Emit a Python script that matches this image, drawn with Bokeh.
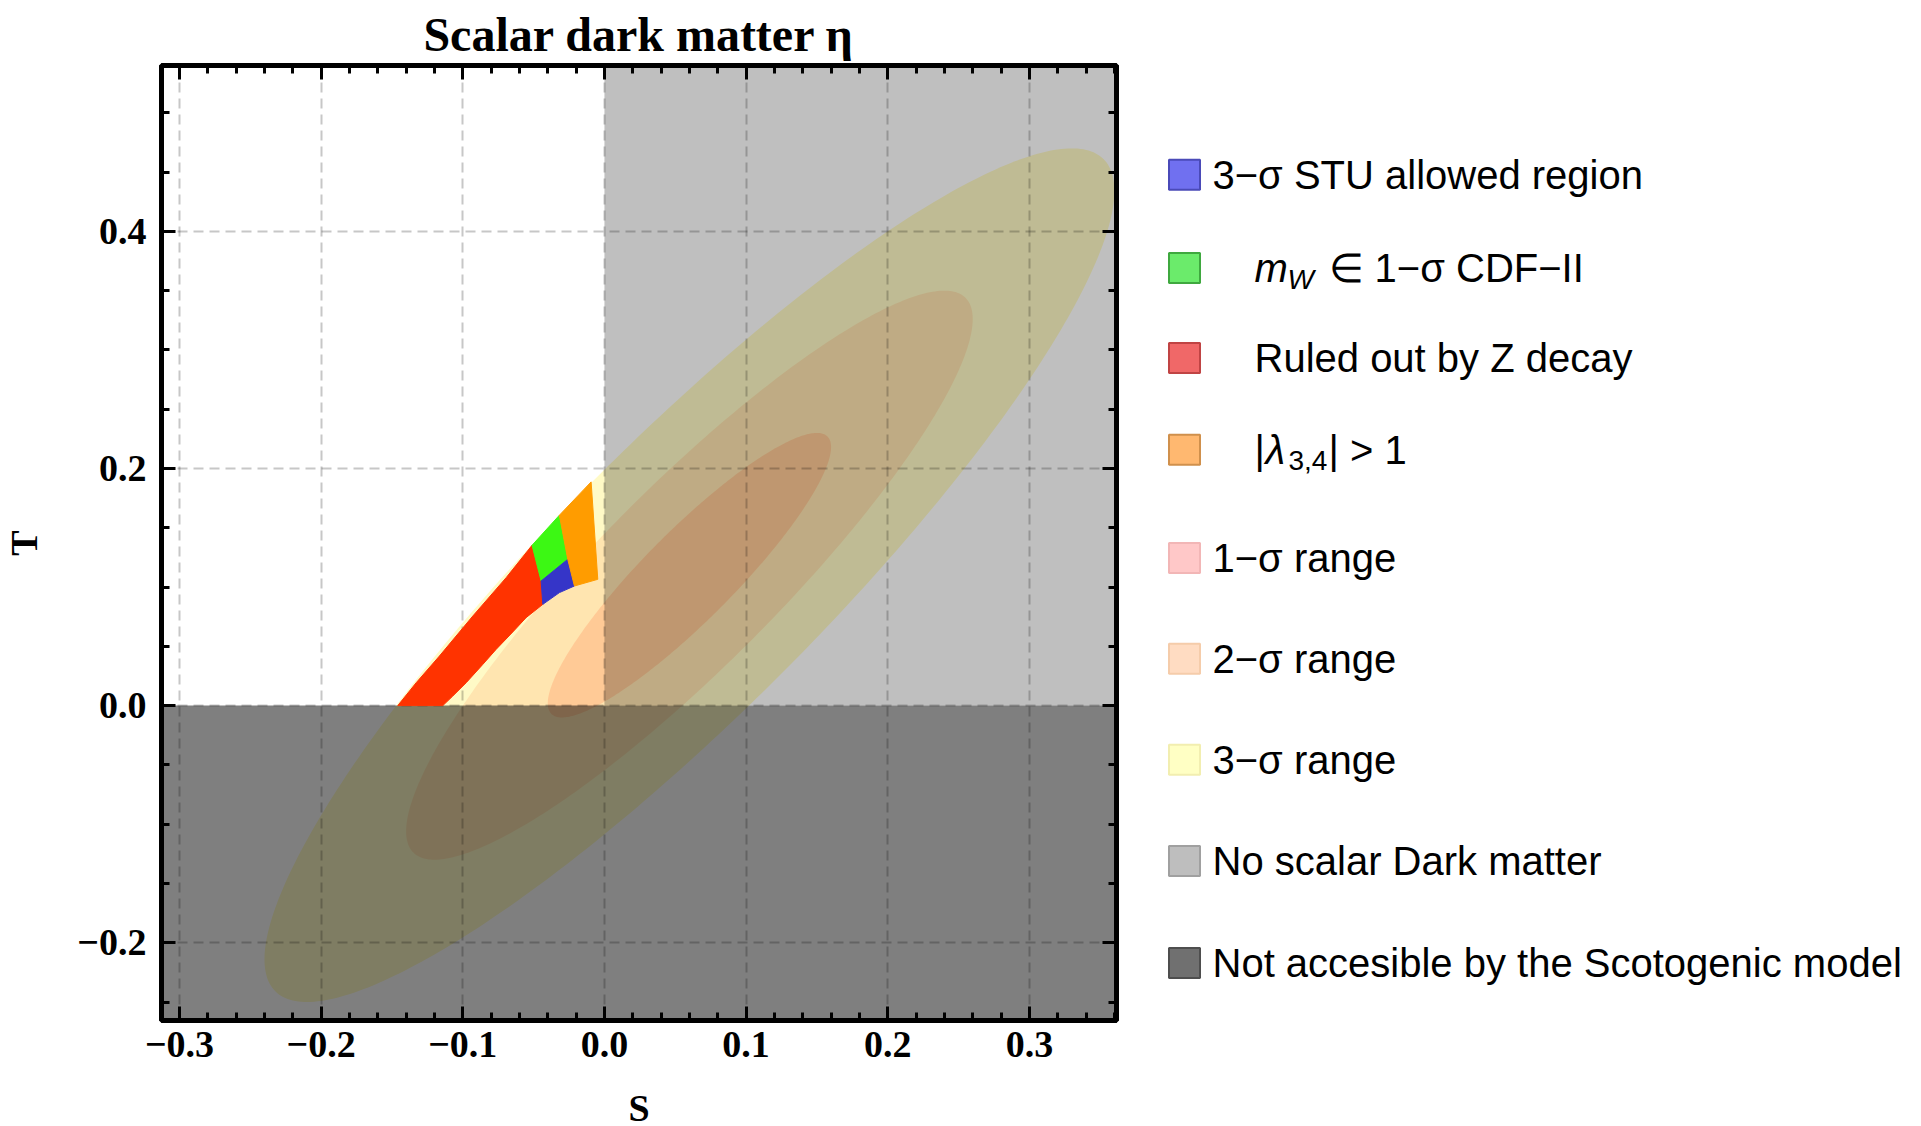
import numpy as np
from bokeh.plotting import figure
from bokeh.models import FixedTicker, LinearAxis, CustomJSTickFormatter, Range1d
from bokeh.layouts import row
from bokeh.embed import file_html
from bokeh.resources import INLINE
from bokeh.core.properties import value

# ---------------- data ----------------
title_text = "Scalar dark matter η"
x_label = "S"
y_label = "T"

x_major_ticks = [-0.3, -0.2, -0.1, 0.0, 0.1, 0.2, 0.3]
x_minor_ticks = [-0.30, -0.28, -0.26, -0.24, -0.22, -0.20, -0.18, -0.16, -0.14, -0.12,
                 -0.10, -0.08, -0.06, -0.04, -0.02, 0.00, 0.02, 0.04, 0.06, 0.08,
                 0.10, 0.12, 0.14, 0.16, 0.18, 0.20, 0.22, 0.24, 0.26, 0.28,
                 0.30, 0.32, 0.34, 0.36]
y_major_ticks = [-0.2, 0.0, 0.2, 0.4]
y_minor_ticks = [-0.25, -0.15, -0.10, -0.05, 0.05, 0.10, 0.15, 0.25, 0.30, 0.35, 0.45, 0.50]

x_view = (-0.3127, 0.3615)
y_view = (-0.2656, 0.5399)

# global fit of S,T (centre, widths, correlation) read from the ellipses
fit_S = 0.06
fit_T = 0.11
sigma_S = 0.10
sigma_T = 0.12
rho_ST = 0.90
ellipse_levels = [3, 2, 1]
ellipse_colors = ["#FFFAC6", "#FFE5B0", "#FFCA96"]

# scan band of the scotogenic model, split by constraint
red_S = [-0.1459, -0.1329, -0.1165, -0.0929, -0.0694, -0.0511, -0.0447, -0.0435,
         -0.0553, -0.0647, -0.0765, -0.0859, -0.0976, -0.1071, -0.1141]
red_T = [0.0000, 0.0193, 0.0418, 0.0756, 0.1079, 0.1352, 0.1051, 0.0854,
         0.0742, 0.0621, 0.0474, 0.0347, 0.0193, 0.0080, 0.0000]
green_S = [-0.0511, -0.0318, -0.0259, -0.0447]
green_T = [0.1352, 0.1606, 0.1234, 0.1051]
blue_S = [-0.0447, -0.0259, -0.0212, -0.0318, -0.0435]
blue_T = [0.1051, 0.1234, 0.1009, 0.0953, 0.0854]
orange_S = [-0.0318, -0.0094, -0.0047, -0.0212, -0.0259]
orange_T = [0.1606, 0.1887, 0.1065, 0.1009, 0.1234]
band_colors = {"red": "#FF3300", "green": "#3CF814", "blue": "#3535C8", "orange": "#FF9C00"}

# excluded regions (S >= 0 and T >= 0: no scalar DM;  T < 0: not accessible)
no_dm_left, no_dm_right, no_dm_bottom, no_dm_top = 0.0, 1.0, 0.0, 1.0
na_left, na_right, na_bottom, na_top = -1.0, 1.0, -1.0, 0.0

legend_labels = ["3−σ STU allowed region", "mW ∈ 1−σ CDF−II", "Ruled out by Z decay",
                 "|λ3,4| > 1", "1−σ range", "2−σ range", "3−σ range",
                 "No scalar Dark matter", "Not accesible by the Scotogenic model"]
legend_fill = ["#7070F0", "#6BEB6B", "#F06868", "#FFB870", "#FFC8C8", "#FFDCC2",
               "#FFFFC4", "#BEBEBE", "#707070"]
legend_edge = ["#4A4AB8", "#3FA83F", "#C04444", "#D0904C", "#F2B6B6", "#F5CCAA",
               "#F2EEB0", "#A0A0A0", "#4E4E4E"]

# ---------------- main plot ----------------
SERIF = "Liberation Serif"
SANS = "Liberation Sans"

p = figure(frame_width=955, frame_height=955,
           x_range=Range1d(*x_view), y_range=Range1d(*y_view),
           output_backend="svg", toolbar_location=None,
           min_border_left=160, min_border_right=25, min_border_top=65, min_border_bottom=100,
           background_fill_color="white", border_fill_color="white",
           outline_line_color="black", outline_line_width=5,
           x_axis_label=x_label, y_axis_label=y_label, title=title_text)
p.title.align = "center"
p.title.text_font = SERIF
p.title.text_font_style = "bold"
p.title.text_font_size = "48px"
p.title.text_color = "black"
p.title.standoff = 9
p.title.offset = 0

# confidence ellipses of the S,T fit
t = np.linspace(0, 2 * np.pi, 361)
for lev, col in zip(ellipse_levels, ellipse_colors):
    es = fit_S + lev * sigma_S * np.cos(t)
    et = fit_T + lev * sigma_T * (rho_ST * np.cos(t) + np.sqrt(1 - rho_ST ** 2) * np.sin(t))
    p.patch(es, et, fill_color=col, line_color=None)

# excluded regions as darkening overlays
p.quad(left=[no_dm_left], right=[no_dm_right], bottom=[no_dm_bottom], top=[no_dm_top],
       fill_color="black", fill_alpha=0.25, line_color=None)
p.quad(left=[na_left], right=[na_right], bottom=[na_bottom], top=[na_top],
       fill_color="black", fill_alpha=0.5, line_color=None)

# scotogenic band
for xs, ys, key in [(red_S, red_T, "red"), (green_S, green_T, "green"),
                    (blue_S, blue_T, "blue"), (orange_S, orange_T, "orange")]:
    r = p.patch(xs, ys, fill_color=band_colors[key], line_color=band_colors[key], line_width=1)
    r.level = "overlay"

fmt = CustomJSTickFormatter(code="return (tick < -1e-9 ? '\u2212' : '') + Math.abs(tick).toFixed(1);")
blank = CustomJSTickFormatter(code="return '';")


def style_axis(ax, major, minor, labels):
    ax.ticker = FixedTicker(ticks=major, minor_ticks=minor)
    ax.axis_line_color = "black"
    ax.axis_line_width = 5
    ax.major_tick_in = 14
    ax.major_tick_out = 0
    ax.major_tick_line_width = 3
    ax.minor_tick_in = 8
    ax.minor_tick_out = 0
    ax.minor_tick_line_width = 3
    if labels:
        ax.formatter = fmt
        ax.major_label_text_font = SERIF
        ax.major_label_text_font_style = "bold"
        ax.major_label_text_font_size = "38px"
        ax.major_label_text_color = "black"
        ax.axis_label_text_font = SERIF
        ax.axis_label_text_font_style = "bold"
        ax.axis_label_text_font_size = "38px"
        ax.axis_label_text_color = "black"
    else:
        ax.formatter = blank
        ax.major_label_text_font_size = "0px"
        ax.major_label_standoff = 0


style_axis(p.xaxis[0], x_major_ticks, x_minor_ticks, True)
style_axis(p.yaxis[0], y_major_ticks, y_minor_ticks, True)
p.xaxis[0].major_label_standoff = 11
p.xaxis[0].axis_label_standoff = 27
p.yaxis[0].major_label_standoff = 15
p.yaxis[0].axis_label_standoff = 29

top_ax = LinearAxis()
style_axis(top_ax, x_major_ticks, x_minor_ticks, False)
p.add_layout(top_ax, "above")
right_ax = LinearAxis()
style_axis(right_ax, y_major_ticks, y_minor_ticks, False)
p.add_layout(right_ax, "right")

p.xgrid.ticker = FixedTicker(ticks=x_major_ticks)
p.ygrid.ticker = FixedTicker(ticks=y_major_ticks)
for g in (p.xgrid[0], p.ygrid[0]):
    g.grid_line_color = "black"
    g.grid_line_alpha = 0.22
    g.grid_line_width = 2
    g.grid_line_dash = "10 6"
    g.level = "annotation"

# ---------------- legend panel ----------------
# its frame is aligned with the main frame (canvas rows 65..1020); y in canvas pixels
LW = 781
lg = figure(frame_width=LW, frame_height=955, x_range=Range1d(0, LW), y_range=Range1d(1020, 65),
            output_backend="svg", toolbar_location=None,
            min_border_left=0, min_border_right=0, min_border_top=65, min_border_bottom=100,
            x_axis_type=None, y_axis_type=None, outline_line_color=None,
            background_fill_color="white", border_fill_color="white")
lg.grid.visible = False

row_y = [174.2, 267.5, 357.5, 449.2, 557.5, 658.2, 759.2, 860.5, 962.5]
sw_x, sw_w, sw_h = 43, 31, 30
lg.rect(x=[sw_x] * len(row_y), y=row_y, width=sw_w, height=sw_h,
        fill_color=legend_fill, line_color=legend_edge, line_width=2)

plain_idx = [0, 2, 4, 5, 6, 7, 8]
plain_x = [71, 113, 71, 71, 71, 71, 71]
lg.text(x=plain_x, y=[row_y[i] for i in plain_idx], text=[legend_labels[i] for i in plain_idx],
        text_font=value(SANS), text_font_size="40px", text_baseline="middle",
        text_align="left", text_color="black")

# m_W in 1-sigma CDF-II
y1 = row_y[1]
lg.text(x=[113], y=[y1], text=["m"], text_font=value(SANS), text_font_style="italic",
        text_font_size="40px", text_baseline="middle", text_color="black")
lg.text(x=[146], y=[y1 + 11], text=["W"], text_font=value(SANS), text_font_style="italic",
        text_font_size="28px", text_baseline="middle", text_color="black")
lg.text(x=[187], y=[y1], text=["∈ 1−σ CDF−II"], text_font=value(SANS),
        text_font_size="40px", text_baseline="middle", text_color="black")

# |lambda_{3,4}| > 1
y3 = row_y[3]
lg.text(x=[113], y=[y3], text=["|"], text_font=value(SANS),
        text_font_size="40px", text_baseline="middle", text_color="black")
lg.text(x=[124], y=[y3], text=["λ"], text_font=value(SANS), text_font_style="italic",
        text_font_size="40px", text_baseline="middle", text_color="black")
lg.text(x=[147], y=[y3 + 11], text=["3,4"], text_font=value(SANS),
        text_font_size="28px", text_baseline="middle", text_color="black")
lg.text(x=[187], y=[y3], text=["| > 1"], text_font=value(SANS),
        text_font_size="40px", text_baseline="middle", text_color="black")

layout = row(p, lg)
open("out.html", "w").write(file_html(layout, INLINE))
